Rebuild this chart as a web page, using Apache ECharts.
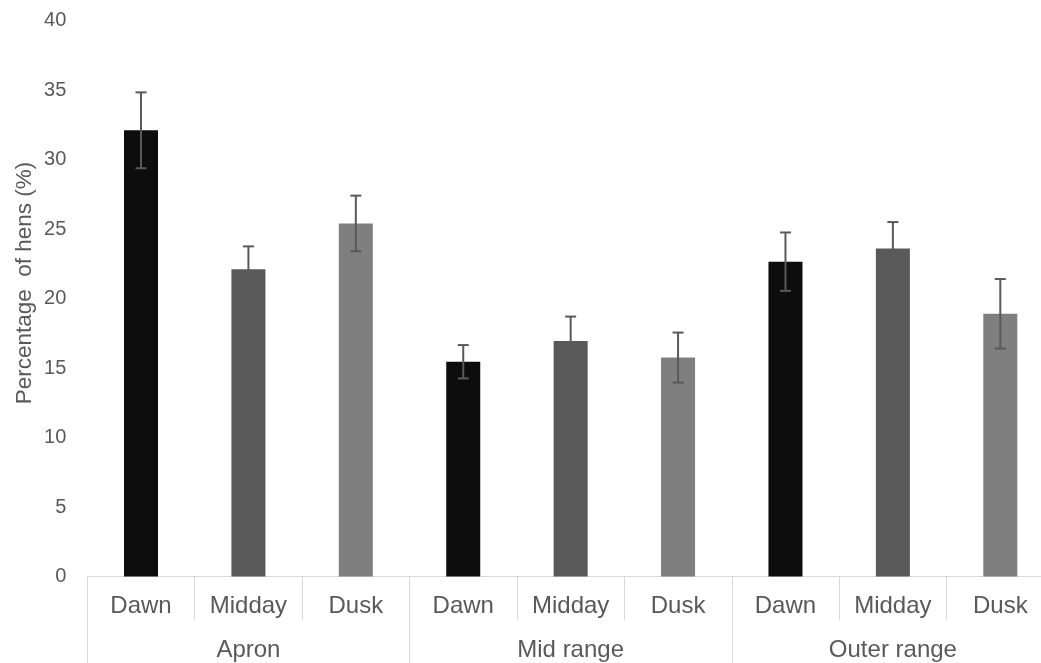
<!DOCTYPE html>
<html>
<head>
<meta charset="utf-8">
<script src="https://cdn.jsdelivr.net/npm/echarts@6/dist/echarts.min.js"></script>
<style>html,body{margin:0;padding:0;background:#fff;overflow:hidden}#c{width:1054px;height:663px}</style>
</head>
<body>
<div id="c"></div>
<script>
var subCategories = ['Dawn','Midday','Dusk','Dawn','Midday','Dusk','Dawn','Midday','Dusk'];
var groups = ['Apron','Mid range','Outer range'];
var means = [32.1, 22.1, 25.4, 15.45, 16.95, 15.75, 22.65, 23.6, 18.9];
var errors = [2.73, 1.65, 2.0, 1.2, 1.75, 1.8, 2.1, 1.9, 2.5];
var barColors = ['#0d0d0d','#595959','#7f7f7f','#0d0d0d','#595959','#7f7f7f','#0d0d0d','#595959','#7f7f7f'];
var yTicks = {min: 0, max: 40, interval: 5};

var FONT = '"Liberation Sans", Arial, sans-serif';
var TXT = '#595959';
var LINE = '#d9d9d9';

var chart = echarts.init(document.getElementById('c'));
var barData = means.map(function(v, i){ return {value: v, itemStyle: {color: barColors[i]}}; });
var errData = means.map(function(v, i){ return [i, v - errors[i], v + errors[i]]; });

chart.setOption({
  animation: false,
  textStyle: {fontFamily: FONT},
  grid: {left: 87.3, right: 0, top: 20.5, bottom: 86.5, containLabel: false},
  xAxis: [{
    type: 'category', data: subCategories, position: 'bottom',
    axisLine: {show: true, lineStyle: {color: LINE, width: 1}},
    axisTick: {show: true, interval: 0, length: 44, lineStyle: {color: LINE, width: 1}},
    axisLabel: {interval: 0, margin: 18, fontSize: 24, color: TXT, fontFamily: FONT},
    splitLine: {show: false}
  }, {
    type: 'category', data: groups, position: 'bottom', offset: 0,
    axisLine: {show: false},
    axisTick: {show: true, interval: 0, length: 95, lineStyle: {color: LINE, width: 1}},
    axisLabel: {interval: 0, margin: 62, fontSize: 24, color: TXT, fontFamily: FONT},
    splitLine: {show: false}
  }],
  yAxis: {
    type: 'value', min: yTicks.min, max: yTicks.max, interval: yTicks.interval,
    axisLine: {show: false}, axisTick: {show: false}, splitLine: {show: false},
    axisLabel: {fontSize: 20, color: TXT, margin: 21, fontFamily: FONT}
  },
  graphic: [{
    type: 'text', x: 25, y: 283, rotation: Math.PI / 2,
    style: {text: 'Percentage  of hens (%)', fill: TXT, font: '22.5px ' + FONT, textAlign: 'center', textVerticalAlign: 'middle'}
  }],
  series: [{
    type: 'bar', xAxisIndex: 0, data: barData, barWidth: 34
  }, {
    type: 'custom', xAxisIndex: 0, data: errData, z: 10,
    renderItem: function(params, api){
      var x = api.value(0);
      var lo = api.coord([x, api.value(1)]);
      var hi = api.coord([x, api.value(2)]);
      var hw = 5.5;
      var st = {stroke: '#595959', lineWidth: 2};
      return {type: 'group', children: [
        {type: 'line', shape: {x1: lo[0], y1: lo[1], x2: hi[0], y2: hi[1]}, style: st},
        {type: 'line', shape: {x1: hi[0]-hw, y1: hi[1], x2: hi[0]+hw, y2: hi[1]}, style: st},
        {type: 'line', shape: {x1: lo[0]-hw, y1: lo[1], x2: lo[0]+hw, y2: lo[1]}, style: st}
      ]};
    }
  }]
});
</script>
</body>
</html>
